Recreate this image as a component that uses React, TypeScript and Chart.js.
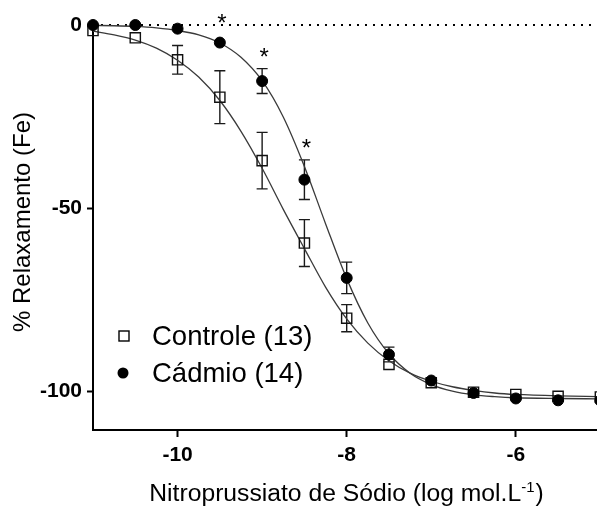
import React, { useEffect, useRef } from "react";
import { Chart, registerables } from "chart.js";

Chart.register(...registerables);

const FONT = '"Liberation Sans", Arial, Helvetica, sans-serif';

// Concentrations (log mol/L)
const doseLog = [-11, -10.5, -10, -9.5, -9, -8.5, -8, -7.5, -7, -6.5, -6, -5.5, -5];
// Controle (13): mean and SEM
const controleMean = [-1.5, -3.5, -9.5, -19.7, -37, -59.5, -80, -92.6, -97.6, -100.2, -100.8, -101.3, -101.5];
const controleSem = [0, 0, 3.9, 7.2, 7.7, 6.4, 3.7, 0, 0, 0, 0, 0, 0];
// Cádmio (14): mean and SEM
const cadmioMean = [0, 0, -1, -4.8, -15.3, -42.2, -69, -89.9, -97, -100.4, -101.9, -102.4, -102.5];
const cadmioSem = [0, 0, 0, 0, 3.4, 5.4, 4.3, 2.0, 0, 0, 0, 0, 0];

// Fitted curves
const curveX = [-11, -10.75, -10.5, -10.25, -10, -9.75, -9.5, -9.25, -9, -8.75, -8.5, -8.25, -8, -7.75, -7.5, -7.25, -7, -6.75, -6.5, -6.25, -6, -5.5, -5];
const controleFit = [-1.7, -2.7, -4.1, -6.3, -9.6, -14.2, -20.6, -29.0, -39.1, -50.3, -61.0, -71.5, -80.2, -86.8, -91.6, -95.0, -97.2, -98.7, -99.7, -100.4, -100.8, -101.2, -101.4];
const cadmioFit = [-0.1, -0.2, -0.4, -0.8, -1.5, -2.7, -4.9, -8.8, -15.2, -25.1, -38.6, -54.2, -69.2, -81.3, -89.7, -95.0, -98.1, -99.9, -100.9, -101.4, -101.7, -101.9, -102.0];

// Dotted reference line at 0
const zeroX = [-11, -5];
const zeroY = [0, 0];

// Significance marks (*)
const starX = [-9.5, -9, -8.5];
const starY = [2.0, -7.4, -32.2];

const xTicks = [-10, -8, -6];
const yTicks = [0, -50, -100];

const seriesLabels = ["Controle (13)", "Cádmio (14)"];
const yTitle = "% Relaxamento (Fe)";
const xTitleMain = "Nitroprussiato de Sódio (log mol.L";
const xTitleSup = "-1";
const xTitleEnd = ")";

const toPts = (xs: number[], ys: number[]) => xs.map((v, i) => ({ x: v, y: ys[i] }));

const overlay = {
  id: "overlay",
  beforeDatasetsDraw(chart: any) {
    const { ctx } = chart;
    const x = chart.scales.x;
    const y = chart.scales.y;
    ctx.save();
    ctx.strokeStyle = "#1a1a1a";
    ctx.lineWidth = 1.4;
    const bars = (means: number[], sems: number[]) => {
      doseLog.forEach((d, i) => {
        if (!sems[i]) return;
        const px = x.getPixelForValue(d);
        const top = y.getPixelForValue(means[i] + sems[i]);
        const bot = y.getPixelForValue(means[i] - sems[i]);
        ctx.beginPath();
        ctx.moveTo(px, top);
        ctx.lineTo(px, bot);
        ctx.moveTo(px - 5.5, top);
        ctx.lineTo(px + 5.5, top);
        ctx.moveTo(px - 5.5, bot);
        ctx.lineTo(px + 5.5, bot);
        ctx.stroke();
      });
    };
    bars(controleMean, controleSem);
    bars(cadmioMean, cadmioSem);
    ctx.restore();
  },
  afterDraw(chart: any) {
    const { ctx } = chart;
    const x = chart.scales.x;
    const y = chart.scales.y;
    ctx.save();
    ctx.fillStyle = "#000";
    // stars
    ctx.font = `24px ${FONT}`;
    ctx.textAlign = "center";
    ctx.textBaseline = "alphabetic";
    starX.forEach((sx, i) => {
      ctx.fillText("*", x.getPixelForValue(sx) + 2, y.getPixelForValue(starY[i]) + 13);
    });

    // legend
    ctx.font = `27.5px ${FONT}`;
    ctx.textAlign = "left";
    ctx.textBaseline = "middle";
    ctx.strokeStyle = "#000";
    ctx.lineWidth = 1.4;
    ctx.strokeRect(119, 331, 10, 10);
    ctx.fillText(seriesLabels[0], 152, 337);
    ctx.beginPath();
    ctx.arc(123, 373, 5.5, 0, Math.PI * 2);
    ctx.fill();
    ctx.fillText(seriesLabels[1], 152, 374);

    // y title
    ctx.save();
    ctx.font = `24px ${FONT}`;
    ctx.textAlign = "center";
    ctx.textBaseline = "middle";
    ctx.translate(23, 222);
    ctx.rotate(-Math.PI / 2);
    ctx.fillText(yTitle, 0, 0);
    ctx.restore();

    // x title with superscript
    ctx.textBaseline = "alphabetic";
    ctx.textAlign = "left";
    ctx.font = `24.7px ${FONT}`;
    const w1 = ctx.measureText(xTitleMain).width;
    const w3 = ctx.measureText(xTitleEnd).width;
    ctx.font = `15px ${FONT}`;
    const w2 = ctx.measureText(xTitleSup).width;
    const total = w1 + w2 + w3 + 1;
    const cx = 346.5;
    let sx = cx - total / 2;
    const base = 501;
    ctx.font = `24.7px ${FONT}`;
    ctx.fillText(xTitleMain, sx, base);
    sx += w1;
    ctx.font = `15px ${FONT}`;
    ctx.fillText(xTitleSup, sx, base - 9.5);
    sx += w2 + 1;
    ctx.font = `24.7px ${FONT}`;
    ctx.fillText(xTitleEnd, sx, base);
    ctx.restore();
  },
};

export default function App() {
  const ref = useRef<HTMLCanvasElement | null>(null);
  useEffect(() => {
    if (!ref.current) return;
    const chart = new Chart(ref.current, {
      type: "scatter",
      data: {
        datasets: [
          {
            label: seriesLabels[1],
            data: toPts(doseLog, cadmioMean),
            showLine: false,
            pointStyle: "circle",
            pointRadius: 5.5,
            pointBackgroundColor: "#000",
            pointBorderColor: "#000",
            pointBorderWidth: 1,
            clip: false,
            order: 0,
          },
          {
            label: seriesLabels[0],
            data: toPts(doseLog, controleMean),
            showLine: false,
            pointStyle: "rect",
            pointRadius: 7.2,
            pointBackgroundColor: "rgba(255,255,255,0)",
            pointBorderColor: "#111",
            pointBorderWidth: 1.4,
            clip: false,
            order: 1,
          },
          {
            label: "fit cadmio",
            data: toPts(curveX, cadmioFit),
            showLine: true,
            pointRadius: 0,
            borderColor: "#3a3a3a",
            borderWidth: 1.3,
            cubicInterpolationMode: "monotone",
            clip: false,
            order: 2,
          },
          {
            label: "fit controle",
            data: toPts(curveX, controleFit),
            showLine: true,
            pointRadius: 0,
            borderColor: "#3a3a3a",
            borderWidth: 1.3,
            cubicInterpolationMode: "monotone",
            clip: false,
            order: 3,
          },
          {
            label: "zero",
            data: toPts(zeroX, zeroY),
            showLine: true,
            pointRadius: 0,
            borderColor: "#000",
            borderWidth: 2,
            borderDash: [2, 6],
            clip: false,
            order: 4,
          },
        ],
      },
      options: {
        animation: false,
        responsive: false,
        layout: { autoPadding: false, padding: { left: 0, right: 0, top: 25, bottom: 0 } },
        plugins: { legend: { display: false }, tooltip: { enabled: false } },
        scales: {
          x: {
            type: "linear",
            min: -11,
            max: -5.04,
            afterBuildTicks: (s: any) => {
              s.ticks = xTicks.map((v) => ({ value: v }));
            },
            afterFit: (s: any) => {
              s.height = 76;
              s.paddingLeft = 0;
              s.paddingRight = 0;
            },
            grid: { drawOnChartArea: false, drawTicks: true, tickLength: 7, tickWidth: 2, tickColor: "#000" },
            border: { display: true, color: "#000", width: 2 },
            ticks: {
              color: "#000",
              padding: 6,
              font: { family: FONT, size: 21, weight: "bold" },
              callback: (v: any) => String(v),
            },
          },
          y: {
            type: "linear",
            min: -110.5,
            max: 0,
            afterBuildTicks: (s: any) => {
              s.ticks = yTicks.map((v) => ({ value: v }));
            },
            afterFit: (s: any) => {
              s.width = 93;
              s.paddingTop = 0;
              s.paddingBottom = 0;
            },
            grid: { drawOnChartArea: false, drawTicks: true, tickLength: 6, tickWidth: 2, tickColor: "#000" },
            border: { display: true, color: "#000", width: 2 },
            ticks: {
              color: "#000",
              padding: 5,
              font: { family: FONT, size: 21, weight: "bold" },
              callback: (v: any) => String(v),
            },
          },
        },
      },
      plugins: [overlay],
    } as any);
    return () => chart.destroy();
  }, []);
  return (
    <div style={{ position: "fixed", left: 0, top: 0, width: 597, height: 506, background: "#fff" }}>
      <canvas ref={ref} width={597} height={506} style={{ display: "block" }} />
    </div>
  );
}
